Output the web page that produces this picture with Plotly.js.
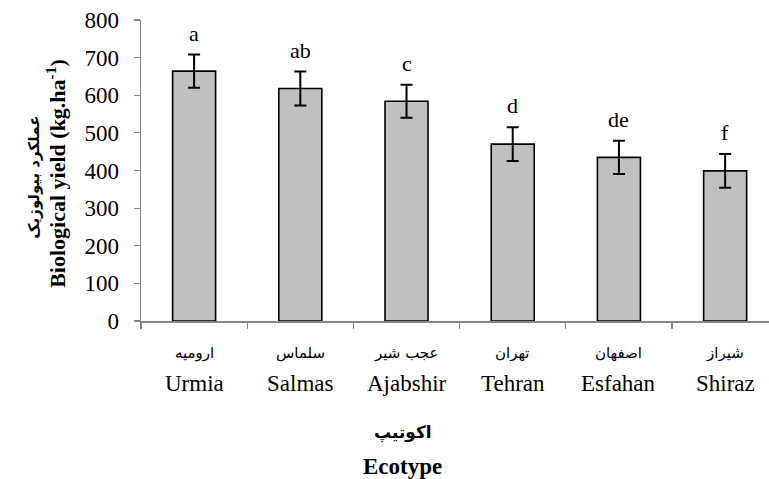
<!DOCTYPE html>
<html>
<head>
<meta charset="utf-8">
<script src="https://cdn.plot.ly/plotly-3.0.1.min.js"></script>
<style>html,body{margin:0;padding:0;background:#fff;}#chart{width:769px;height:479px;}</style>
</head>
<body>
<div id="chart"></div>
<script>
const categories = ['Urmia', 'Salmas', 'Ajabshir', 'Tehran', 'Esfahan', 'Shiraz'];
const persianLabels = ['ارومیه', 'سلماس', 'عجب شیر', 'تهران', 'اصفهان', 'شیراز'];
const yieldValues = [664, 618, 584, 470, 435, 399];
const errorValues = [44, 45, 44, 45, 44, 45];
const groupLetters = ['a', 'ab', 'c', 'd', 'de', 'f'];
const yTickVals = [0, 100, 200, 300, 400, 500, 600, 700, 800];

const serif = '"Liberation Serif", "Times New Roman", "DejaVu Serif", serif';
const persianFont = '"DejaVu Sans", sans-serif';

const trace = {
  type: 'bar',
  x: categories,
  y: yieldValues,
  marker: { color: '#C0C0C0', line: { color: '#000000', width: 1.6 } },
  error_y: { type: 'data', array: errorValues, visible: true, color: '#000000', thickness: 2, width: 6 },
  hoverinfo: 'none'
};

const annotations = [];
categories.forEach((c, i) => {
  annotations.push({
    x: c, y: yieldValues[i] + errorValues[i], xref: 'x', yref: 'y',
    text: groupLetters[i], showarrow: false, yanchor: 'bottom', yshift: 7,
    font: { family: serif, size: 22, color: '#000' }
  });
  annotations.push({
    x: c, y: 0, xref: 'x', yref: 'paper', text: persianLabels[i], showarrow: false,
    yanchor: 'middle', yshift: -32, font: { family: persianFont, size: 15, color: '#000' }
  });
  annotations.push({
    x: c, y: 0, xref: 'x', yref: 'paper', text: c, showarrow: false,
    yanchor: 'middle', yshift: -62, font: { family: serif, size: 23, color: '#000' }
  });
});
annotations.push({
  x: 0.417, y: 0, xref: 'paper', yref: 'paper', text: '<b>اکوتیپ</b>', showarrow: false,
  yanchor: 'middle', yshift: -111, font: { family: persianFont, size: 17, color: '#000' }
});
annotations.push({
  x: 0.417, y: 0, xref: 'paper', yref: 'paper', text: '<b>Ecotype</b>', showarrow: false,
  yanchor: 'middle', yshift: -145, font: { family: serif, size: 23, color: '#000' }
});
annotations.push({
  x: 0, y: 0.476, xref: 'paper', yref: 'paper', text: '<b>عملکرد بیولوژیک</b>', showarrow: false,
  textangle: -90, xanchor: 'center', xshift: -107, font: { family: persianFont, size: 15, color: '#000' }
});
annotations.push({
  x: 0, y: 0.489, xref: 'paper', yref: 'paper', text: '<b>Biological yield (kg.ha<sup>-1</sup>)</b>', showarrow: false,
  textangle: -90, xanchor: 'center', xshift: -85, font: { family: serif, size: 22, color: '#000' }
});

const layout = {
  width: 769, height: 479,
  margin: { l: 141, r: 0, t: 20, b: 157.5 },
  paper_bgcolor: '#ffffff', plot_bgcolor: '#ffffff',
  showlegend: false,
  bargap: 0.595,
  xaxis: {
    type: 'category', range: [-0.5, 5.413],
    showline: true, linecolor: '#868686', linewidth: 1.5,
    ticks: 'outside', tickson: 'boundaries', ticklen: 6, tickcolor: '#868686', tickwidth: 1.2,
    showticklabels: false, showgrid: false, zeroline: false
  },
  yaxis: {
    range: [0, 800], tickvals: yTickVals,
    showline: true, linecolor: '#868686', linewidth: 1.5,
    ticks: 'outside', ticklen: 6, tickcolor: '#868686', tickwidth: 1.2,
    ticklabelstandoff: 10,
    tickfont: { family: serif, size: 23, color: '#000' },
    showgrid: false, zeroline: false
  },
  annotations: annotations
};

Plotly.newPlot('chart', [trace], layout, { staticPlot: true, displayModeBar: false });
</script>
</body>
</html>
